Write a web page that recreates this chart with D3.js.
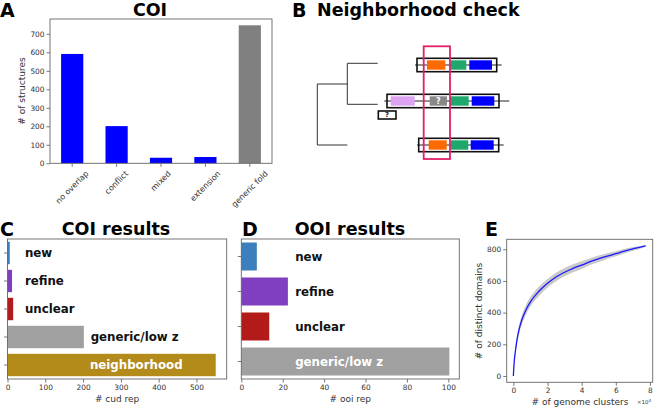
<!DOCTYPE html>
<html>
<head>
<meta charset="utf-8">
<script src="https://cdn.jsdelivr.net/npm/d3@7"></script>
<style>
  body { margin: 0; background: #fff; }
  svg text { font-family: "DejaVu Sans", sans-serif; }
  .tick text { fill: #333; font-size: 7.4px; }
  .tick line { stroke: #555; stroke-width: 0.8; }
  .frame { fill: none; stroke: #666; stroke-width: 0.9; }
  .panel-letter { font-size: 19px; font-weight: bold; }
  .title { font-size: 17.5px; font-weight: bold; }
  .label { font-size: 9px; fill: #333; }
  .bar-label { font-size: 11.8px; font-weight: bold; }
</style>
</head>
<body>
<svg></svg>
<script>
// ---- data ----
const coiCats   = ["no overlap", "conflict", "mixed", "extension", "generic fold"];
const coiCounts = [591, 201, 30, 34, 746];
const coiColors = ["#0000ff", "#0000ff", "#0000ff", "#0000ff", "#808080"];
const coiTicks  = [0, 100, 200, 300, 400, 500, 600, 700];

const cudCats   = ["new", "refine", "unclear", "generic/low z", "neighborhood"];
const cudCounts = [6, 12, 15, 202, 551];
const cudLabelX = [46, 46, 46, 220, 218];
const cudLabelColors = ["#111", "#111", "#111", "#111", "#fff"];
const cudTicks  = [0, 100, 200, 300, 400, 500];

const ooiCats   = ["new", "refine", "unclear", "generic/low z"];
const ooiCounts = [7.5, 22.5, 13.5, 100.5];
const ooiLabelX = [26, 26, 26, 26];
const ooiLabelColors = ["#111", "#111", "#111", "#fff"];
const ooiTicks  = [0, 20, 40, 60, 80, 100];

const resultColors = {"new": "#3b80bc", "refine": "#7f3fbf", "unclear": "#b31b1b",
                      "generic/low z": "#a0a0a0", "neighborhood": "#b38b1b"};

// rarefaction curve (x in 1e4 genome clusters)
const clusters = [0, 0.05, 0.1, 0.2, 0.35, 0.5, 0.75, 1, 1.5, 2, 2.5, 3, 3.5, 4, 4.5, 5, 5.5, 6, 6.5, 7, 7.5, 7.75];
const domains  = [0, 90, 140, 220, 300, 355, 420, 468, 535, 585, 625, 655, 680, 700, 722, 740, 757, 772, 788, 802, 815, 822];
const spread   = [0, 14, 20, 25, 28, 30, 30, 30, 30, 28, 27, 26, 25, 24, 22, 20, 18, 16, 14, 12, 8, 4];
const eXTicks  = [0, 2, 4, 6, 8];
const eYTicks  = [0, 200, 400, 600, 800];

// neighborhood schematic (units = px inside panel B, origin at panel corner)
const treeLinks = [
  [27.3, 84, 27.3, 145], [27.3, 84, 57.3, 84], [27.3, 145, 57.3, 145],
  [57.3, 63.3, 57.3, 104.3], [57.3, 63.3, 87.7, 63.3], [57.3, 104.3, 87.7, 104.3]
];
const geneRows = [
  {y: 65,  line: [125, 211.7], box: [127, 206.7]},
  {y: 101, line: [94.3, 219.3], box: [97, 209]},
  {y: 145, line: [127, 213.7], box: [128.7, 208.7]}
];
const genes = [
  {row: 0, x0: 137, x1: 155.3, color: "#ff6a00"},
  {row: 0, x0: 160.3, x1: 176.3, color: "#1fa86b"},
  {row: 0, x0: 179.3, x1: 202, color: "#0000ff"},
  {row: 1, x0: 100.7, x1: 124.7, color: "#dda3f2"},
  {row: 1, x0: 139.7, x1: 157, color: "#888888", text: "?"},
  {row: 1, x0: 160.3, x1: 178.7, color: "#1fa86b"},
  {row: 1, x0: 181.7, x1: 204.3, color: "#0000ff"},
  {row: 2, x0: 138.7, x1: 156.7, color: "#ff6a00"},
  {row: 2, x0: 160.7, x1: 178.3, color: "#1fa86b"},
  {row: 2, x0: 180.7, x1: 203.7, color: "#0000ff"}
];
const unknownBox = [88.3, 111, 106, 119];
const highlight  = [133.7, 46.3, 160, 159];

const svg = d3.select("svg").attr("width", 654).attr("height", 408);

function styleAxis(g) {
  g.select(".domain").remove();
}

function frame(x0, y0, x1, y1) {
  svg.append("rect").attr("class", "frame")
    .attr("x", x0).attr("y", y0).attr("width", x1 - x0).attr("height", y1 - y0);
}

function text(x, y, str, cls, anchor) {
  return svg.append("text").attr("class", cls).attr("x", x).attr("y", y)
    .attr("text-anchor", anchor || "start").text(str);
}

// ---- panel A ----
{
  const x = d3.scaleBand().domain(coiCats).range([50, 272]).paddingInner(0.5).paddingOuter(0.25);
  const y = d3.scaleLinear().domain([0, 780]).range([163.3, 19]);

  svg.append("g").selectAll("rect").data(coiCats).join("rect")
    .attr("x", d => x(d)).attr("width", x.bandwidth())
    .attr("y", (d, i) => y(coiCounts[i])).attr("height", (d, i) => y(0) - y(coiCounts[i]))
    .attr("fill", (d, i) => coiColors[i]);

  svg.append("g").attr("transform", "translate(50,0)")
    .call(d3.axisLeft(y).tickValues(coiTicks).tickSize(3.5).tickPadding(2)).call(styleAxis);
  svg.append("g").attr("transform", "translate(0,163.3)")
    .call(d3.axisBottom(x).tickSize(3.5).tickFormat("")).call(styleAxis);

  svg.append("g").selectAll("text").data(coiCats).join("text")
    .attr("font-size", 8).attr("fill", "#333")
    .attr("text-anchor", "middle").attr("dominant-baseline", "central")
    .text(d => d)
    .attr("transform", function (d) {
      const L = this.getComputedTextLength();
      const cy = 169.5 + (L + 8) * 0.7071 / 2;
      return `translate(${x(d) + x.bandwidth() / 2},${cy}) rotate(-45)`;
    });

  frame(50, 19, 272, 163.3);
  text(22, 91, "# of structures", "label", "middle")
    .attr("transform", "rotate(-90,22,91)").attr("dy", "0.35em");
  text(0, 17, "A", "panel-letter");
  text(150, 16, "COI", "title", "middle");
}

// ---- panel B ----
{
  const sx = d3.scaleLinear().domain([0, 240]).range([290, 530]);
  const sy = d3.scaleLinear().domain([0, 170]).range([0, 170]);
  const g = svg.append("g");

  g.selectAll("line.tree").data(treeLinks).join("line").attr("class", "tree")
    .attr("x1", d => sx(d[0])).attr("y1", d => sy(d[1]))
    .attr("x2", d => sx(d[2])).attr("y2", d => sy(d[3]))
    .attr("stroke", "#333").attr("stroke-width", 1);

  g.selectAll("line.backbone").data(geneRows).join("line").attr("class", "backbone")
    .attr("x1", d => sx(d.line[0])).attr("x2", d => sx(d.line[1]))
    .attr("y1", d => sy(d.y)).attr("y2", d => sy(d.y))
    .attr("stroke", "#222").attr("stroke-width", 1);

  g.selectAll("rect.gene").data(genes).join("rect").attr("class", "gene")
    .attr("x", d => sx(d.x0)).attr("width", d => sx(d.x1) - sx(d.x0))
    .attr("y", d => sy(geneRows[d.row].y - 4.7)).attr("height", d => sy(9.4) - sy(0))
    .attr("fill", d => d.color);

  g.selectAll("text.q").data(genes.filter(d => d.text)).join("text").attr("class", "q")
    .attr("x", d => sx((d.x0 + d.x1) / 2)).attr("y", d => sy(geneRows[d.row].y))
    .attr("dy", "0.35em").attr("text-anchor", "middle")
    .attr("font-size", 8).attr("font-weight", "bold").attr("fill", "#fff").text(d => d.text);

  g.selectAll("rect.box").data(geneRows).join("rect").attr("class", "box")
    .attr("x", d => sx(d.box[0])).attr("width", d => sx(d.box[1]) - sx(d.box[0]))
    .attr("y", d => sy(d.y - 6.7)).attr("height", sy(13.4) - sy(0))
    .attr("fill", "none").attr("stroke", "#111").attr("stroke-width", 1.6);

  g.append("rect")
    .attr("x", sx(unknownBox[0])).attr("y", sy(unknownBox[1]))
    .attr("width", sx(unknownBox[2]) - sx(unknownBox[0])).attr("height", sy(unknownBox[3]) - sy(unknownBox[1]))
    .attr("fill", "#fff").attr("stroke", "#111").attr("stroke-width", 1.6);
  g.append("text").attr("x", sx((unknownBox[0] + unknownBox[2]) / 2)).attr("y", sy((unknownBox[1] + unknownBox[3]) / 2))
    .attr("dy", "0.35em").attr("text-anchor", "middle").attr("font-size", 7).attr("font-weight", "bold")
    .attr("fill", "#222").text("?");

  g.append("rect")
    .attr("x", sx(highlight[0])).attr("y", sy(highlight[1]))
    .attr("width", sx(highlight[2]) - sx(highlight[0])).attr("height", sy(highlight[3]) - sy(highlight[1]))
    .attr("fill", "none").attr("stroke", "#e2206a").attr("stroke-width", 1.8);

  text(292, 17, "B", "panel-letter");
  text(317, 16, "Neighborhood check", "title");
}

// ---- horizontal result bars (C, D) ----
function resultPanel(cats, counts, labelX, labelColors, ticks, xmax, x0, x1, xlabel, letter, lx, title, tx) {
  const top = 239, bottom = 379;
  const x = d3.scaleLinear().domain([0, xmax]).range([x0, x1]);
  const y = d3.scaleBand().domain(cats).range([top, bottom]).paddingInner(0.2).paddingOuter(0.1);

  svg.append("g").selectAll("rect").data(cats).join("rect")
    .attr("x", x(0)).attr("y", d => y(d)).attr("height", y.bandwidth())
    .attr("width", (d, i) => x(counts[i]) - x(0)).attr("fill", d => resultColors[d]);

  svg.append("g").selectAll("text").data(cats).join("text").attr("class", "bar-label")
    .attr("x", (d, i) => x(labelX[i])).attr("y", d => y(d) + y.bandwidth() / 2).attr("dy", "0.36em")
    .attr("fill", (d, i) => labelColors[i]).text(d => d);

  svg.append("g").attr("transform", `translate(0,${bottom})`)
    .call(d3.axisBottom(x).tickValues(ticks).tickSize(3.5).tickPadding(2)).call(styleAxis);
  svg.append("g").attr("transform", `translate(${x0},0)`)
    .call(d3.axisLeft(y).tickSize(3.5).tickFormat("")).call(styleAxis);

  frame(x0, top, x1, bottom);
  text((x0 + x1) / 2, 402, xlabel, "label", "middle");
  text(lx, 236, letter, "panel-letter");
  text(tx, 235, title, "title", "middle");
}

resultPanel(cudCats, cudCounts, cudLabelX, cudLabelColors, cudTicks, 580, 7.5, 226.7,
            "# cud rep", "C", 0, "COI results", 116);
resultPanel(ooiCats, ooiCounts, ooiLabelX, ooiLabelColors, ooiTicks, 105.3, 241.3, 459.3,
            "# ooi rep", "D", 242, "OOI results", 350);

// ---- panel E ----
{
  const left = 506.7, right = 652.7, top = 239.3, bottom = 382.3;
  const x = d3.scaleLinear().domain([-0.39, 8.16]).range([left, right]);
  const y = d3.scaleLinear().domain([-40, 863]).range([bottom, top]);

  const band = d3.area()
    .x((d, i) => x(clusters[i]))
    .y0((d, i) => y(domains[i] - spread[i]))
    .y1((d, i) => y(domains[i] + spread[i]))
    .curve(d3.curveMonotoneX);
  svg.append("path").datum(domains).attr("d", band).attr("fill", "#c9c9c9");

  const line = d3.line().x((d, i) => x(clusters[i])).y(d => y(d)).curve(d3.curveMonotoneX);
  svg.append("path").datum(domains).attr("d", line)
    .attr("fill", "none").attr("stroke", "#1a1aff").attr("stroke-width", 1.3);

  svg.append("g").attr("transform", `translate(0,${bottom})`)
    .call(d3.axisBottom(x).tickValues(eXTicks).tickSize(3.5).tickPadding(2)).call(styleAxis);
  svg.append("g").attr("transform", `translate(${left},0)`)
    .call(d3.axisLeft(y).tickValues(eYTicks).tickSize(3.5).tickPadding(2)).call(styleAxis);

  frame(left, top, right, bottom);
  text(580, 405, "# of genome clusters", "label", "middle");
  svg.append("text").attr("x", 637).attr("y", 404).attr("font-size", 5.5).attr("fill", "#333")
    .text("×10").append("tspan").attr("dy", -2.5).attr("font-size", 4).text("4");
  text(479, 311, "# of distinct domains", "label", "middle")
    .attr("transform", "rotate(-90,479,311)").attr("dy", "0.35em");
  text(485, 236, "E", "panel-letter");
}
</script>
</body>
</html>
